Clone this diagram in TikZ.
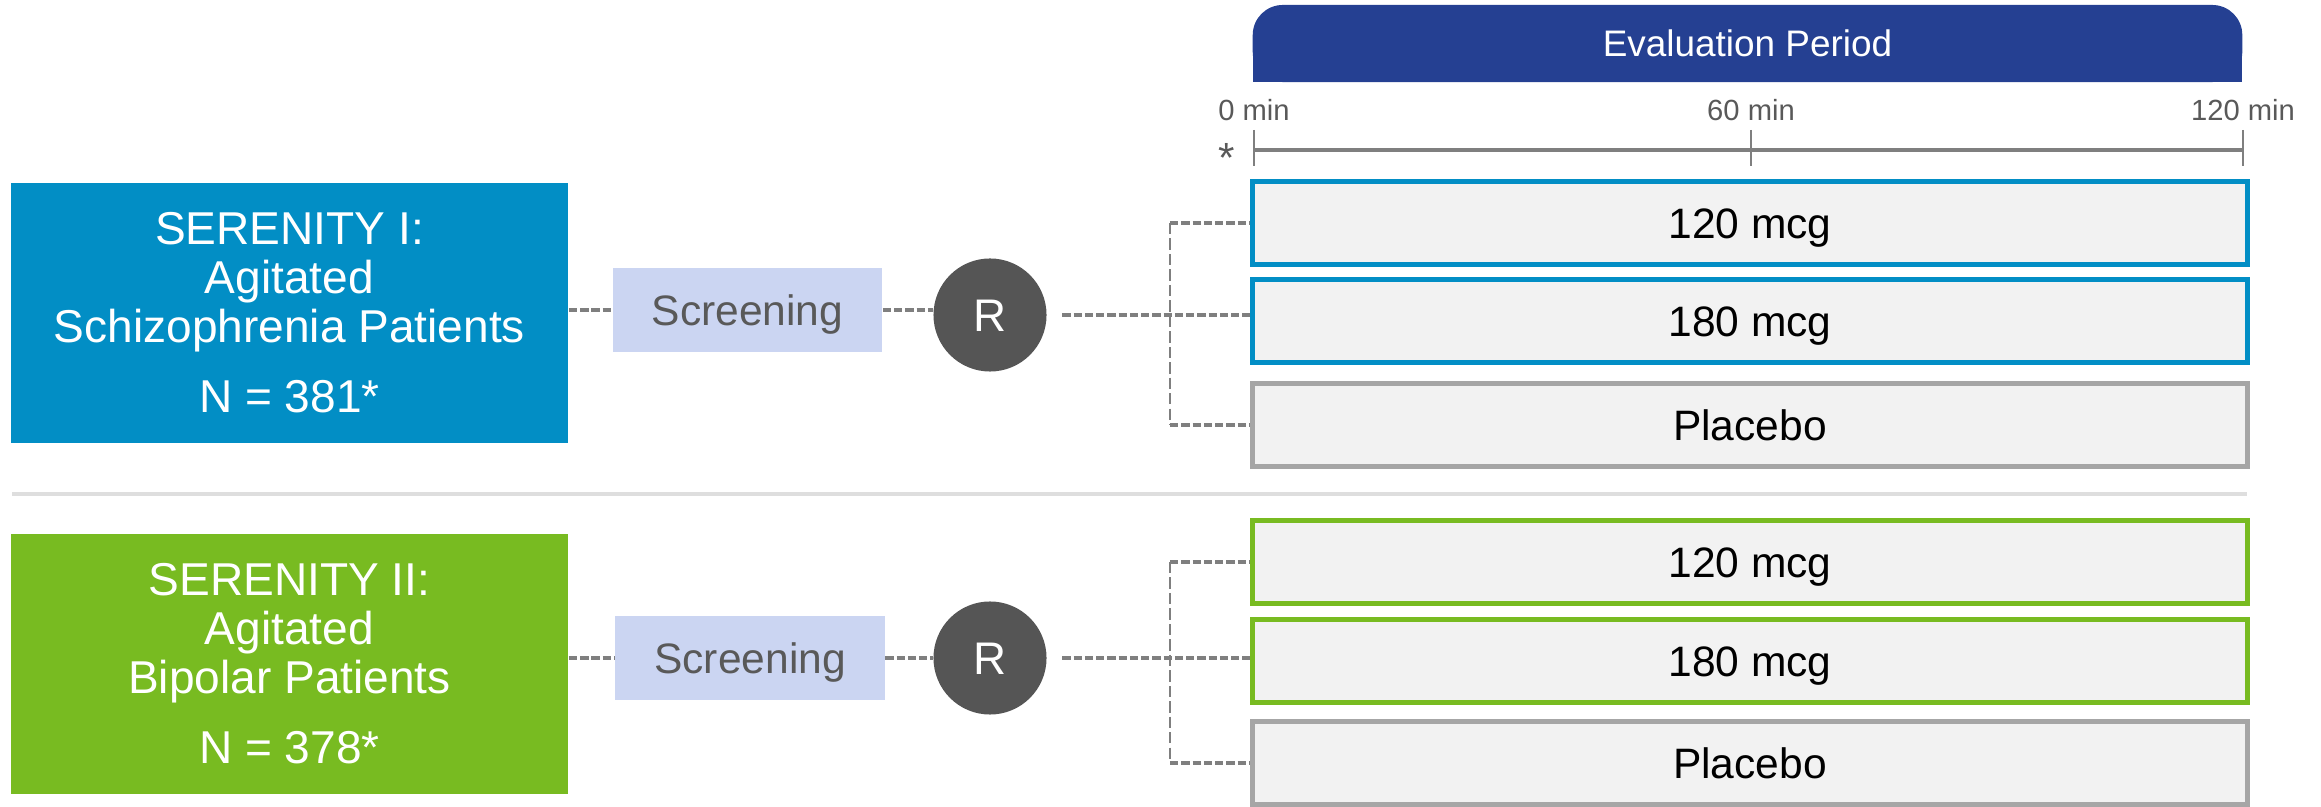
\documentclass[tikz,border=0pt]{standalone}
\usepackage{fontspec}
\setmainfont{Liberation Sans}
\definecolor{serblue}{RGB}{2,142,197}
\definecolor{sergreen}{RGB}{120,187,33}
\definecolor{evalblue}{RGB}{37,64,146}
\definecolor{scrfill}{RGB}{203,213,242}
\definecolor{rgray}{RGB}{85,85,85}
\definecolor{armfill}{RGB}{242,242,242}
\definecolor{placgray}{RGB}{166,166,166}
\definecolor{linkgray}{RGB}{127,127,127}
\definecolor{txtgray}{RGB}{89,89,89}
\definecolor{sepgray}{RGB}{222,222,222}
\begin{document}
\begin{tikzpicture}[x=0.01cm, y=-0.01cm,
  study/.style={inner sep=0, minimum width=5.57cm, minimum height=2.6cm, text=white,
    align=center, font=\fontsize{13.1}{13.9}\selectfont},
  screen/.style={fill=scrfill, inner sep=0, minimum width=2.69cm, minimum height=0.84cm,
    text=txtgray, text height=8.7pt, text depth=0pt, font=\fontsize{12.1}{14}\selectfont},
  rand/.style={circle, fill=rgray, inner sep=0, minimum size=1.13cm, text=white,
    text height=9.3pt, text depth=0pt, font=\fontsize{13}{15}\selectfont},
  arm/.style={draw=#1, line width=1.42pt, fill=armfill, inner sep=0, minimum width=9.95cm,
    minimum height=0.83cm, text height=8.7pt, text depth=0pt, font=\fontsize{12.1}{14}\selectfont},
  link/.style={linkgray, line width=1.3pt, dash pattern=on 2.4pt off 0.8pt},
  bracket/.style={linkgray, line width=0.8pt, dash pattern=on 3.2pt off 1.2pt},
  timelab/.style={text=txtgray, inner sep=0, font=\fontsize{8.3}{10}\selectfont}]
  \useasboundingbox (0,0) rectangle (2321,807);

  % evaluation period header and time axis
  \fill[evalblue] (1253,40) rectangle (2242,82);
  \node[fill=evalblue, rounded corners=0.3cm, minimum width=9.89cm, minimum height=0.77cm,
    inner sep=0, text=white, font=\fontsize{10.5}{12}\selectfont] (eval) at (1747.5,43.5) {Evaluation Period};
  \draw[linkgray, line width=1.2pt] (1254,150) -- (2243,150);
  \foreach \x/\t in {1254/0, 1751/60, 2243/120} {
    \draw[linkgray, line width=0.75pt] (\x,130) -- (\x,166);
    \node[timelab, anchor=base] (m\t) at (\x,121) {\t{} min};
  }
  \node[text=txtgray, inner sep=0, font=\fontsize{12}{14}\selectfont] (star) at (1227,158) {*};

  % SERENITY I
  \node[study, fill=serblue] (g1) at (289.5,313) {SERENITY I:\\Agitated\\Schizophrenia Patients\\[6pt]N = 381*};
  \node[screen] (scr1) at (747.5,310) {Screening};
  \node[rand] (r1) at (990,315) {R};
  \node[arm=serblue] (a11) at (1750,223) {120 mcg};
  \node[arm=serblue] (a12) at (1750,321) {180 mcg};
  \node[arm=placgray] (a13) at (1750,425) {Placebo};
  \coordinate (b1) at (1170,316);
  \draw[link] (scr1.west -| g1.east) -- (scr1.west);
  \draw[link] (scr1.east) -- (scr1.east -| r1.west);
  \draw[link, shorten <=0.15cm] (r1.east) -- (r1.east -| a12.west);
  \draw[bracket] (a11.west -| b1) -- (a13.west -| b1);
  \draw[link] (a11.west -| b1) -- (a11.west);
  \draw[link] (a13.west -| b1) -- (a13.west);

  \draw[sepgray, line width=1.1pt] (12,494) -- (2247,494);

  % SERENITY II
  \node[study, fill=sergreen] (g2) at (289.5,664) {SERENITY II:\\Agitated\\Bipolar Patients\\[6pt]N = 378*};
  \node[screen] (scr2) at (750,658) {Screening};
  \node[rand] (r2) at (990,658) {R};
  \node[arm=sergreen] (a21) at (1750,562) {120 mcg};
  \node[arm=sergreen] (a22) at (1750,661) {180 mcg};
  \node[arm=placgray] (a23) at (1750,763) {Placebo};
  \coordinate (b2) at (1170,661);
  \draw[link] (scr2.west -| g2.east) -- (scr2.west);
  \draw[link] (scr2.east) -- (scr2.east -| r2.west);
  \draw[link, shorten <=0.15cm] (r2.east) -- (r2.east -| a22.west);
  \draw[bracket] (a21.west -| b2) -- (a23.west -| b2);
  \draw[link] (a21.west -| b2) -- (a21.west);
  \draw[link] (a23.west -| b2) -- (a23.west);
\end{tikzpicture}
\end{document}
